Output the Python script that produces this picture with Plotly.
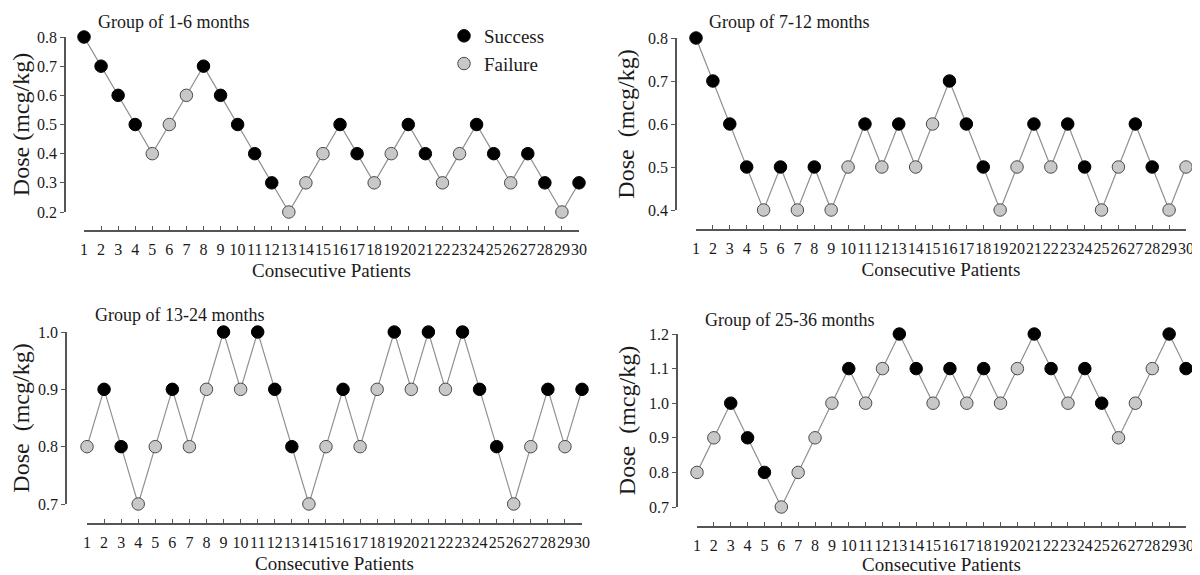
import plotly.graph_objects as go

patients = list(range(1, 31))
tick_labels = [str(i) for i in patients]

# Group of 1-6 months
dose_1_6 = [0.8, 0.7, 0.6, 0.5, 0.4, 0.5, 0.6, 0.7, 0.6, 0.5,
            0.4, 0.3, 0.2, 0.3, 0.4, 0.5, 0.4, 0.3, 0.4, 0.5,
            0.4, 0.3, 0.4, 0.5, 0.4, 0.3, 0.4, 0.3, 0.2, 0.3]
success_1_6 = [1, 1, 1, 1, 0, 0, 0, 1, 1, 1,
               1, 1, 0, 0, 0, 1, 1, 0, 0, 1,
               1, 0, 0, 1, 1, 0, 1, 1, 0, 1]

# Group of 7-12 months
dose_7_12 = [0.8, 0.7, 0.6, 0.5, 0.4, 0.5, 0.4, 0.5, 0.4, 0.5,
             0.6, 0.5, 0.6, 0.5, 0.6, 0.7, 0.6, 0.5, 0.4, 0.5,
             0.6, 0.5, 0.6, 0.5, 0.4, 0.5, 0.6, 0.5, 0.4, 0.5]
success_7_12 = [1, 1, 1, 1, 0, 1, 0, 1, 0, 0,
                1, 0, 1, 0, 0, 1, 1, 1, 0, 0,
                1, 0, 1, 1, 0, 0, 1, 1, 0, 0]

# Group of 13-24 months
dose_13_24 = [0.8, 0.9, 0.8, 0.7, 0.8, 0.9, 0.8, 0.9, 1.0, 0.9,
              1.0, 0.9, 0.8, 0.7, 0.8, 0.9, 0.8, 0.9, 1.0, 0.9,
              1.0, 0.9, 1.0, 0.9, 0.8, 0.7, 0.8, 0.9, 0.8, 0.9]
success_13_24 = [0, 1, 1, 0, 0, 1, 0, 0, 1, 0,
                 1, 1, 1, 0, 0, 1, 0, 0, 1, 0,
                 1, 0, 1, 1, 1, 0, 0, 1, 0, 1]

# Group of 25-36 months
dose_25_36 = [0.8, 0.9, 1.0, 0.9, 0.8, 0.7, 0.8, 0.9, 1.0, 1.1,
              1.0, 1.1, 1.2, 1.1, 1.0, 1.1, 1.0, 1.1, 1.0, 1.1,
              1.2, 1.1, 1.0, 1.1, 1.0, 0.9, 1.0, 1.1, 1.2, 1.1]
success_25_36 = [0, 0, 1, 1, 1, 0, 0, 0, 0, 1,
                 0, 0, 1, 1, 0, 1, 0, 1, 0, 0,
                 1, 1, 0, 1, 1, 0, 0, 0, 1, 1]

titles = ["Group of 1-6 months", "Group of 7-12 months",
          "Group of 13-24 months", "Group of 25-36 months"]
y_titles = ["Dose (mcg/kg)", "Dose\u00a0 (mcg/kg)", "Dose\u00a0 (mcg/kg)", "Dose\u00a0 (mcg/kg)"]
y_ranges = [[0.2, 0.8], [0.4, 0.8], [0.7, 1.0], [0.7, 1.2]]
doses = [dose_1_6, dose_7_12, dose_13_24, dose_25_36]
successes = [success_1_6, success_7_12, success_13_24, success_25_36]

OFF = 8  # page body margin
W, H = 1200 - OFF, 575 - OFF
FONT = "Liberation Serif, Times New Roman, serif"
TXT = "#1a1a1a"


def px(p):
    return (p - OFF) / W


def py(p):
    return 1 - (p - OFF) / H


# pixel geometry: x of patient 1, x of patient 30, y-axis line x, top px, bottom px, x-axis line y, title x, title y
geom = [
    (84, 579, 65, 37, 212, 231, 96, 22),
    (696, 1186, 676, 38, 210, 230, 707, 22),
    (87, 582, 66, 332, 504, 524, 93, 315),
    (697, 1186, 677, 334, 507, 527, 703, 320),
]

fig = go.Figure()
layout = dict(width=W, height=H, margin=dict(l=0, r=0, t=0, b=0, autoexpand=False),
              plot_bgcolor="white", paper_bgcolor="white",
              font=dict(family=FONT, color=TXT), annotations=[])

for i in range(4):
    xs = "x" if i == 0 else f"x{i+1}"
    ys = "y" if i == 0 else f"y{i+1}"
    d = doses[i]
    s = successes[i]
    fig.add_trace(go.Scatter(x=patients, y=d, mode="lines", xaxis=xs, yaxis=ys,
                             line=dict(color="#909090", width=1.2),
                             showlegend=False, hoverinfo="skip", cliponaxis=False))
    sx = [p for p, k in zip(patients, s) if k == 1]
    sy = [v for v, k in zip(d, s) if k == 1]
    fx = [p for p, k in zip(patients, s) if k == 0]
    fy = [v for v, k in zip(d, s) if k == 0]
    fig.add_trace(go.Scatter(x=sx, y=sy, mode="markers", xaxis=xs, yaxis=ys,
                             name="Success", legendgroup="s", showlegend=(i == 0),
                             marker=dict(size=12.5, color="black", line=dict(color="black", width=1)),
                             cliponaxis=False))
    fig.add_trace(go.Scatter(x=fx, y=fy, mode="markers", xaxis=xs, yaxis=ys,
                             name="Failure", legendgroup="f", showlegend=(i == 0),
                             marker=dict(size=12.5, color="#c8c8c8", line=dict(color="#4a4a4a", width=1)),
                             cliponaxis=False))

    x1, x30, yax, ytop, ybot, xline, tx, ty = geom[i]
    key_x = "xaxis" if i == 0 else f"xaxis{i+1}"
    key_y = "yaxis" if i == 0 else f"yaxis{i+1}"
    layout[key_x] = dict(
        domain=[px(x1), px(x30)], range=[1, 30], anchor="free",
        position=py(xline), automargin=False,
        tickmode="array", tickvals=patients, ticktext=tick_labels, tickangle=0,
        ticks="inside", ticklen=4, tickcolor="#555", tickwidth=1,
        ticklabelstandoff=4,
        showline=True, linecolor="#555", linewidth=1.5,
        showgrid=False, zeroline=False,
        tickfont=dict(size=16, family=FONT, color=TXT),
        title=dict(text="Consecutive Patients", font=dict(size=19, family=FONT, color=TXT), standoff=6),
    )
    layout[key_y] = dict(
        domain=[py(ybot), py(ytop)], range=y_ranges[i], anchor="free",
        position=px(yax), dtick=0.1, tick0=0, tickformat=".1f", automargin=False,
        ticks="outside", ticklen=4, tickcolor="#555", tickwidth=1,
        showline=True, linecolor="#555", linewidth=1.5,
        showgrid=False, zeroline=False,
        tickfont=dict(size=16, family=FONT, color=TXT),
        title=dict(text=y_titles[i], font=dict(size=24, family=FONT, color=TXT), standoff=6),
    )
    layout["annotations"].append(dict(
        text=titles[i], x=px(tx), y=py(ty), xref="paper", yref="paper",
        xanchor="left", yanchor="middle", showarrow=False,
        font=dict(size=18, family=FONT, color=TXT)))

layout["legend"] = dict(x=px(444), y=py(17), xanchor="left", yanchor="top",
                        font=dict(size=19, family=FONT, color=TXT),
                        bgcolor="rgba(0,0,0,0)", itemwidth=30, tracegroupgap=0)
fig.update_layout(**layout)
fig.write_html("out.html")
